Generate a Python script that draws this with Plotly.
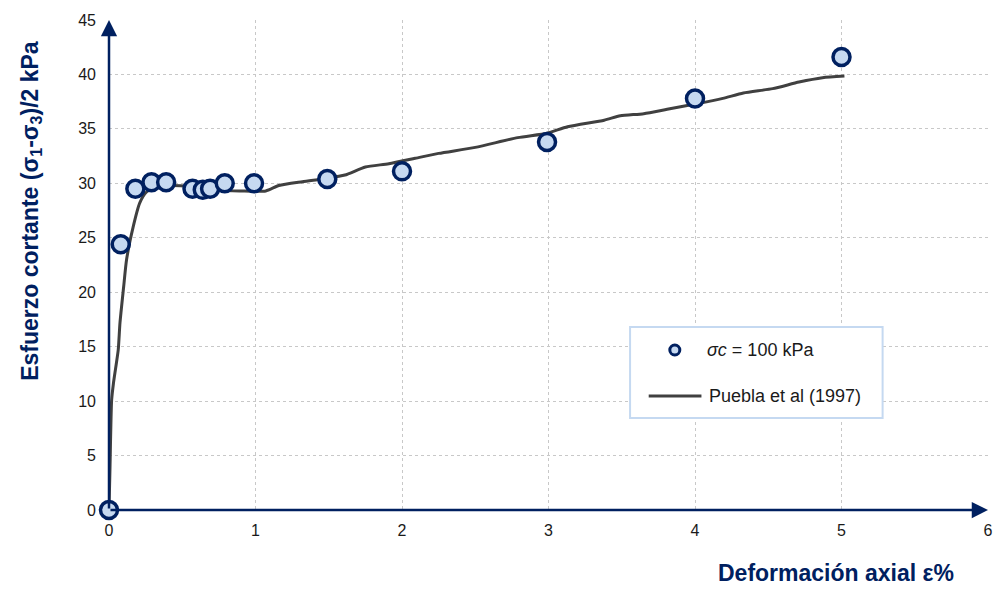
import plotly.graph_objects as go

# Measured points (sigma_c = 100 kPa)
eps_pts = [0, 0.08, 0.18, 0.29, 0.39, 0.57, 0.64, 0.69, 0.79, 0.99, 1.49, 2.0, 2.99, 4.0, 5.0]
tau_pts = [0, 24.4, 29.5, 30.1, 30.1, 29.5, 29.4, 29.5, 30.0, 30.0, 30.4, 31.1, 33.8, 37.8, 41.6]

# Model curve (Puebla et al 1997)
eps_curve = [0, 0.007, 0.018, 0.03, 0.045, 0.063, 0.075, 0.10, 0.12, 0.165, 0.21, 0.256, 0.32, 0.41,
             0.55, 0.66, 0.89, 1.07, 1.16, 1.32, 1.48, 1.61, 1.75, 1.91, 2.09, 2.25, 2.5, 2.79, 2.99,
             3.13, 3.38, 3.49, 3.65, 3.81, 4.01, 4.19, 4.33, 4.53, 4.71, 4.87, 5.02]
tau_curve = [0, 4.0, 10.1, 11.6, 13.0, 14.7, 17.2, 20.5, 23.0, 26.0, 28.2, 29.2, 29.7, 29.8,
             29.7, 29.4, 29.3, 29.3, 29.8, 30.15, 30.45, 30.76, 31.5, 31.8, 32.3, 32.75, 33.3, 34.2, 34.6,
             35.2, 35.8, 36.2, 36.4, 36.8, 37.3, 37.8, 38.3, 38.7, 39.3, 39.7, 39.85]

x_ticks = [0, 1, 2, 3, 4, 5, 6]
y_ticks = [0, 5, 10, 15, 20, 25, 30, 35, 40, 45]

NAVY = "#002060"
FILL = "#c6d9f1"
LINE = "#404040"
FONT = "Liberation Sans, Arial, sans-serif"

fig = go.Figure()
fig.add_trace(go.Scatter(x=eps_curve, y=tau_curve, mode="lines", name="Puebla et al (1997)",
                         line=dict(color=LINE, width=3, shape="spline", smoothing=0.6),
                         showlegend=False, cliponaxis=False))
fig.add_trace(go.Scatter(x=eps_pts, y=tau_pts, mode="markers", name="σc = 100 kPa",
                         marker=dict(size=17, color=FILL, line=dict(color=NAVY, width=3.5)),
                         showlegend=False, cliponaxis=False))

grid = dict(showgrid=True, gridcolor="#c8c8c8", griddash="dot", gridwidth=1,
            zeroline=False, showline=False, ticks="",
            tickfont=dict(family=FONT, size=16, color="#1a1a1a"))
fig.update_xaxes(range=[0, 6], tickvals=x_ticks, ticklabelstandoff=9, **grid)
fig.update_yaxes(range=[0, 45], tickvals=y_ticks, ticklabelstandoff=12, **grid)

# axis arrows
fig.add_annotation(x=6, y=0, ax=0, ay=0, xref="x", yref="y", axref="x", ayref="y", text="",
                   showarrow=True, arrowhead=2, arrowsize=1.3, arrowwidth=2.5, arrowcolor=NAVY)
fig.add_annotation(x=0, y=45, ax=0, ay=0, xref="x", yref="y", axref="x", ayref="y", text="",
                   showarrow=True, arrowhead=2, arrowsize=1.3, arrowwidth=2.5, arrowcolor=NAVY)

# axis titles
fig.add_annotation(text="Esfuerzo cortante (σ<sub>1</sub>-σ<sub>3</sub>)/2 kPa", textangle=-90,
                   xref="paper", yref="paper", x=-0.089, y=0.61, xanchor="center", yanchor="middle",
                   showarrow=False, font=dict(family=FONT, size=23, color=NAVY, weight="bold"))
fig.add_annotation(text="Deformación axial ε%", xref="paper", yref="paper", x=0.827, y=-0.1285,
                   xanchor="center", yanchor="middle", showarrow=False,
                   font=dict(family=FONT, size=23, color=NAVY, weight="bold"))

# manual legend
fig.add_shape(type="rect", xref="paper", yref="paper", x0=0.5928, x1=0.8801, y0=0.1878, y1=0.3735,
              line=dict(color="#c5d9f1", width=2), fillcolor="white", layer="above")
fig.add_shape(type="circle", xref="paper", yref="paper", xsizemode="pixel", ysizemode="pixel",
              xanchor=0.6437, yanchor=0.3265, x0=-5, x1=5, y0=-5, y1=5,
              line=dict(color=NAVY, width=3), fillcolor=FILL, layer="above")
fig.add_shape(type="line", xref="paper", yref="paper", x0=0.614, x1=0.674, y0=0.2327, y1=0.2327,
              line=dict(color=LINE, width=3), layer="above")
fig.add_annotation(text="<i>σc</i> = 100 kPa", xref="paper", yref="paper", x=0.6776, y=0.3265,
                   xanchor="left", yanchor="middle", showarrow=False,
                   font=dict(family=FONT, size=18, color="#1a1a1a"))
fig.add_annotation(text="Puebla et al (1997)", xref="paper", yref="paper", x=0.6799, y=0.2327,
                   xanchor="left", yanchor="middle", showarrow=False,
                   font=dict(family=FONT, size=18, color="#1a1a1a"))

fig.update_layout(width=1002, height=589, margin=dict(l=109, r=9, t=20, b=79),
                  paper_bgcolor="white", plot_bgcolor="white", showlegend=False,
                  font=dict(family=FONT))
fig.write_html("out.html")
